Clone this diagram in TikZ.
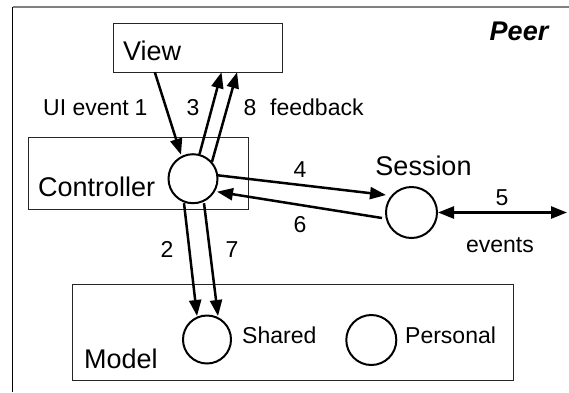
\documentclass[tikz,border=0pt]{standalone}
\usepackage{fontspec}
\setmainfont{Liberation Sans}
\usetikzlibrary{arrows.meta,calc}
\begin{document}
\begin{tikzpicture}[x=1pt,y=-1pt,
  box/.style={draw=black!85,line width=1pt},
  proc/.style={circle,draw,line width=2pt,minimum size=#1,inner sep=0pt},
  flow/.style={line width=2.5pt,-{Triangle[length=16pt,width=12pt]}},
  bigtxt/.style={inner sep=0pt,font=\fontsize{27}{30}\selectfont},
  smalltxt/.style={inner sep=0pt,font=\fontsize{23}{26}\selectfont},
  lbl/.style={smalltxt,anchor=base}]
\useasboundingbox (0,0) rectangle (569,392);
% outer frame (only top and left visible)
\draw[gray,line width=1.3pt] (12.5,7) -- (569,7);
\draw[black,line width=1.3pt] (12.5,7) -- (12.5,392);
% boxes
\draw[box] (113,23) rectangle (282,72);
\draw[box] (28,137) rectangle (248,209);
\draw[box] (72,284) rectangle (513,380);
\node (view) [draw=none,minimum width=169pt,minimum height=49pt,inner sep=0pt] at (197.5,47.5) {};
% labels in boxes
\node[bigtxt,anchor=base west] (viewtxt) at (123,60) {View};
\node[bigtxt,anchor=base west] (ctrltxt) at (38,196) {Controller};
\node[bigtxt,anchor=base west] (modeltxt) at (84,368) {Model};
\node[bigtxt,anchor=base,font=\fontsize{27}{30}\selectfont\bfseries\itshape] (peer) at (519,40) {Peer};
% circles
\node[proc=49pt] (ctrl) at (193,178.7) {};
\node[proc=51pt] (sess) at (411.5,212.5) {};
\node[proc=48pt] (shared) at (207,339.5) {};
\node[proc=50pt] (personal) at (371.3,340) {};
\node[bigtxt,anchor=base] (sesstxt) at (423.5,175) {Session};
\node[smalltxt,anchor=base west] (sharedtxt) at (242,343) {Shared};
\node[smalltxt,anchor=base west] (personaltxt) at (405,343) {Personal};
\coordinate (net) at (567,212.5);
% connectors
\draw[flow] ($(view.south west)+(42,0)$) -- ($(ctrl.center)+(-12,-24)$);
\draw[flow] ($(ctrl.center)+(6.5,-24.5)$) -- ($(view.south west)+(108.7,0)$);
\draw[flow] ($(ctrl.center)+(19,-17)$) -- ($(view.south west)+(124.3,0)$);
\draw[flow] ($(ctrl.center)+(24,-3.5)$) -- ($(sess.center)+(-25.5,-17.5)$);
\draw[flow] ($(sess.center)+(-29.5,5.5)$) -- ($(ctrl.center)+(24,13)$);
\draw[line width=2.5pt,{Triangle[length=16pt,width=12pt]}-{Triangle[length=16pt,width=12pt]}] (sess.east) -- (net);
\draw[flow] ($(ctrl.center)+(-9,24.5)$) -- ($(shared.center)+(-10,-23.5)$);
\draw[flow] ($(ctrl.center)+(11,24.5)$) -- ($(shared.center)+(11,-23.5)$);
% connector labels
\node[smalltxt,anchor=base west] (uievent) at (43,115) {UI event};
\node[lbl] (l1) at (141,115) {1};
\node[lbl] (l3) at (193,115) {3};
\node[lbl] (l8) at (250,115) {8};
\node[smalltxt,anchor=base west] (feedback) at (270,115) {feedback};
\node[lbl] (l4) at (300,177) {4};
\node[lbl] (l6) at (300,232) {6};
\node[lbl] (l5) at (502,205) {5};
\node[lbl] (events) at (500,252) {events};
\node[lbl] (l2) at (167,257) {2};
\node[lbl] (l7) at (232,257) {7};
\end{tikzpicture}
\end{document}
